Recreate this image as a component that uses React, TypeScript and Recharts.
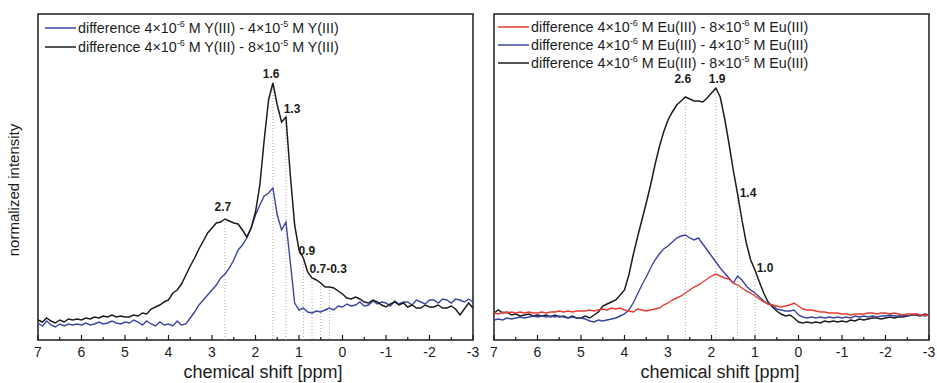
import { LineChart, Line, XAxis, YAxis, ReferenceLine, ReferenceDot, ReferenceArea } from 'recharts';

// chemical shift grid (ppm), shared by every trace
const shift = [
  7, 6.9, 6.8, 6.7, 6.6, 6.5, 6.4, 6.3, 6.2, 6.1,
  6, 5.9, 5.8, 5.7, 5.6, 5.5, 5.4, 5.3, 5.2, 5.1,
  5, 4.9, 4.8, 4.7, 4.6, 4.5, 4.4, 4.3, 4.2, 4.1,
  4, 3.9, 3.8, 3.7, 3.6, 3.5, 3.4, 3.3, 3.2, 3.1,
  3, 2.9, 2.8, 2.7, 2.6, 2.5, 2.4, 2.3, 2.2, 2.1,
  2, 1.9, 1.8, 1.7, 1.6, 1.5, 1.4, 1.3, 1.2, 1.1,
  1, 0.9, 0.8, 0.7, 0.6, 0.5, 0.4, 0.3, 0.2, 0.1,
  0, -0.1, -0.2, -0.3, -0.4, -0.5, -0.6, -0.7, -0.8, -0.9,
  -1, -1.1, -1.2, -1.3, -1.4, -1.5, -1.6, -1.7, -1.8, -1.9,
  -2, -2.1, -2.2, -2.3, -2.4, -2.5, -2.6, -2.7, -2.8, -2.9,
  -3,
];

// Y(III): 4e-6 M minus 4e-5 M
const yDiff4e5 = [
  17, 14, 19, 15, 13, 16, 14, 16, 15, 16,
  15, 17, 15, 16, 18, 16, 17, 19, 17, 16,
  18, 17, 20, 18, 15, 19, 16, 14, 18, 15,
  16, 14, 19, 15, 16, 22, 28, 35, 40, 45,
  50, 55, 62, 66, 72, 80, 90, 95, 102, 112,
  125, 135, 144, 147, 152, 125, 110, 118, 78, 37,
  30, 32, 28, 27, 29, 28, 30, 32, 30, 34,
  33, 36, 34, 35, 38, 34, 35, 39, 36, 38,
  37, 34, 39, 36, 38, 38, 35, 40, 38, 36,
  40, 40, 37, 41, 40, 37, 41, 40, 38, 41,
  38,
];

// Y(III): 4e-6 M minus 8e-5 M
const yDiff8e5 = [
  20, 18, 22, 19, 17, 20, 18, 21, 20, 21,
  20, 22, 21, 23, 22, 24, 23, 25, 23, 24,
  23, 23, 25, 24, 27, 26, 31, 33, 35, 38,
  40, 47, 50, 56, 65, 74, 82, 91, 99, 107,
  112, 117, 118, 121, 119, 117, 116, 110, 103, 112,
  128, 155, 200, 240, 257, 235, 218, 223, 165, 115,
  90, 82, 68, 62, 60, 57, 53, 53, 52, 49,
  46, 42, 41, 43, 41, 38, 37, 40, 38, 35,
  33, 36, 38, 35, 37, 33, 35, 32, 32, 35,
  33, 33, 35, 32, 32, 34, 31, 25, 31, 37,
  32,
];

// Eu(III): 4e-6 M minus 8e-6 M
const euDiff8e6 = [
  27, 26, 28, 27, 28, 27, 28, 27, 28, 27,
  27, 28, 27, 28, 28, 29, 28, 29, 28, 29,
  29, 29, 30, 29, 30, 31, 30, 32, 31, 32,
  30, 29, 28, 31, 30, 29, 30, 31, 32, 35,
  37, 40, 42, 44, 47, 50, 53, 55, 58, 61,
  64, 66, 64, 62, 61, 57, 55, 52, 49, 47,
  44, 41, 38, 36, 35, 34, 33, 34, 35, 37,
  34, 31, 30, 30, 29, 28, 28, 27, 27, 27,
  26, 26, 25, 26, 26, 26, 27, 27, 26, 27,
  27, 26, 27, 26, 25, 26, 26, 26, 25, 25,
  25,
];

// Eu(III): 4e-6 M minus 4e-5 M
const euDiff4e5 = [
  20, 21, 20, 22, 21, 22, 23, 22, 23, 24,
  23, 24, 23, 24, 23, 24, 23, 22, 23, 22,
  22, 21, 19, 18, 20, 19, 20, 21, 22, 24,
  26, 30, 37, 46, 55, 63, 72, 80, 86, 91,
  94, 98, 102, 104, 105, 102, 100, 102, 96, 90,
  84, 78, 72, 67, 62, 57, 64, 60, 54, 50,
  47, 43, 39, 36, 35, 31, 30, 29, 29, 30,
  25, 23, 22, 23, 22, 23, 22, 23, 22, 23,
  22, 23, 22, 24, 23, 24, 23, 24, 23, 24,
  24, 25, 24, 24, 25, 24, 25, 26, 25, 24,
  25,
];

// Eu(III): 4e-6 M minus 8e-5 M
const euDiff8e5 = [
  27, 30, 27, 28, 25, 26, 24, 25, 26, 24,
  25, 24, 25, 23, 25, 23, 24, 22, 24, 22,
  22, 24, 22, 25, 28, 34, 36, 38, 40, 45,
  50, 65, 85, 103, 120, 137, 155, 175, 193, 208,
  220, 228, 235, 239, 243, 241, 239, 239, 238, 242,
  247, 252, 243, 222, 197, 170, 146, 120, 97, 80,
  70, 58, 47, 38, 33, 29, 26, 24, 25, 22,
  18, 17, 18, 17, 18, 17, 19, 18, 19, 18,
  19, 18, 20, 19, 21, 20, 21, 22, 22, 21,
  22, 23, 22, 23, 23, 24, 25, 25, 24, 26,
  25,
];

const xTicks = [7, 6.5, 6, 5.5, 5, 4.5, 4, 3.5, 3, 2.5, 2, 1.5, 1, 0.5, 0, -0.5, -1, -1.5, -2, -2.5, -3];

const yMarks = [2.7, 1.6, 1.3, 0.9, 0.7, 0.5, 0.3];
const euMarks = [2.6, 1.9, 1.4, 1.0];

const yLabels = [
  { text: '1.6', x: 1.64, y: 262 },
  { text: '1.3', x: 1.16, y: 227 },
  { text: '2.7', x: 2.75, y: 129 },
  { text: '0.9', x: 0.82, y: 85 },
  { text: '0.7-0.3', x: 0.33, y: 67 },
];
const euLabels = [
  { text: '2.6', x: 2.66, y: 257 },
  { text: '1.9', x: 1.87, y: 257 },
  { text: '1.4', x: 1.16, y: 143 },
  { text: '1.0', x: 0.77, y: 68 },
];

// legend entries: [text, superscript, text, superscript, text]
const yLegend = [
  { color: '#3b45a3', parts: ['difference 4×10', '-6', ' M Y(III) - 4×10', '-5', ' M Y(III)'] },
  { color: '#1c1c1c', parts: ['difference 4×10', '-6', ' M Y(III) - 8×10', '-5', ' M Y(III)'] },
];
const euLegend = [
  { color: '#ea3b32', parts: ['difference 4×10', '-6', ' M Eu(III) - 8×10', '-6', ' M Eu(III)'] },
  { color: '#3b45a3', parts: ['difference 4×10', '-6', ' M Eu(III) - 4×10', '-5', ' M Eu(III)'] },
  { color: '#1c1c1c', parts: ['difference 4×10', '-6', ' M Eu(III) - 8×10', '-5', ' M Eu(III)'] },
];

const yData = shift.map((s, i) => ({ shift: s, d4e5: yDiff4e5[i], d8e5: yDiff8e5[i] }));
const euData = shift.map((s, i) => ({ shift: s, d8e6: euDiff8e6[i], d4e5: euDiff4e5[i], d8e5: euDiff8e5[i] }));

const FONT = '"Liberation Sans", Arial, sans-serif';
const BLACK = '#1c1c1c';
const BLUE = '#3b45a3';
const RED = '#ea3b32';
const Y_MAX = 326;

const valueAt = (xs: number[], ys: number[], x: number) => {
  const i = xs.findIndex((v) => Math.abs(v - x) < 1e-6);
  return i >= 0 ? ys[i] : 0;
};

const PpmTick = (props: any) => {
  const { x, y, payload } = props;
  const major = Number.isInteger(payload.value);
  return (
    <g>
      <line x1={x} x2={x} y1={y} y2={y - (major ? 5 : 3)} stroke={BLACK} strokeWidth={1.2} />
      {major && (
        <text x={x} y={y + 17} textAnchor="middle" fontSize={14} fontFamily={FONT} fill={BLACK}>
          {payload.value}
        </text>
      )}
    </g>
  );
};

const PeakLabel = (text: string) => (p: any) => (
  <text x={p.cx} y={p.cy} textAnchor="middle" fontSize={12} fontWeight="bold" fontFamily={FONT} fill={BLACK}>
    {text}
  </text>
);

function Frame() {
  return (
    <ReferenceArea x1={7} x2={-3} y1={0} y2={Y_MAX} fill="none" stroke={BLACK} strokeWidth={1.5} strokeOpacity={1} />
  );
}

function LegendRows({ items, x, y, step }: { items: { color: string; parts: string[] }[]; x: number; y: number; step: number }) {
  return (
    <g>
      {items.map((it, i) => {
        const base = y + i * step;
        return (
          <g key={i}>
            <line x1={x} x2={x + 31} y1={base - 5} y2={base - 5} stroke={it.color} strokeWidth={1.5} />
            <text x={x + 33} y={base} fontSize={14.3}>
              <tspan>{it.parts[0]}</tspan>
              <tspan fontSize={9} dy={-6}>{it.parts[1]}</tspan>
              <tspan dy={6}>{it.parts[2]}</tspan>
              <tspan fontSize={9} dy={-6}>{it.parts[3]}</tspan>
              <tspan dy={6}>{it.parts[4]}</tspan>
            </text>
          </g>
        );
      })}
    </g>
  );
}

function Panel({ data, width, left, right, children }: { data: any[]; width: number; left: number; right: number; children: any }) {
  return (
    <LineChart width={width} height={383} data={data} margin={{ top: 14, right, bottom: 13, left }}>
      <XAxis
        dataKey="shift"
        type="number"
        domain={[-3, 7]}
        reversed
        ticks={xTicks}
        interval={0}
        tick={PpmTick}
        tickLine={false}
        tickSize={0}
        tickMargin={0}
        height={30}
        axisLine={false}
      />
      <YAxis hide domain={[0, Y_MAX]} width={0} />
      {children}
      {Frame()}
    </LineChart>
  );
}

export default function App() {
  return (
    <div style={{ position: 'absolute', left: 0, top: 0, width: 937, height: 383, background: '#fff', fontFamily: FONT }}>
      <div style={{ position: 'absolute', left: 0, top: 0 }}>
        <Panel data={yData} width={480} left={38} right={7}>
          {yMarks.map((m) => (
            <ReferenceLine
              key={m}
              segment={[{ x: m, y: valueAt(shift, yDiff8e5, m) }, { x: m, y: 0 }]}
              stroke="#a8a8a8"
              strokeDasharray="1 2"
              strokeWidth={1}
            />
          ))}
          <Line dataKey="d4e5" stroke={BLUE} strokeWidth={1.4} dot={false} isAnimationActive={false} />
          <Line dataKey="d8e5" stroke={BLACK} strokeWidth={1.5} dot={false} isAnimationActive={false} />
          {yLabels.map((l) => (
            <ReferenceDot key={l.text} x={l.x} y={l.y} r={0} shape={PeakLabel(l.text)} />
          ))}
        </Panel>
      </div>
      <div style={{ position: 'absolute', left: 480, top: 0 }}>
        <Panel data={euData} width={457} left={14} right={8}>
          {euMarks.map((m) => (
            <ReferenceLine
              key={m}
              segment={[{ x: m, y: valueAt(shift, euDiff8e5, m) }, { x: m, y: 0 }]}
              stroke="#a8a8a8"
              strokeDasharray="1 2"
              strokeWidth={1}
            />
          ))}
          <Line dataKey="d8e5" stroke={BLACK} strokeWidth={1.5} dot={false} isAnimationActive={false} />
          <Line dataKey="d4e5" stroke={BLUE} strokeWidth={1.4} dot={false} isAnimationActive={false} />
          <Line dataKey="d8e6" stroke={RED} strokeWidth={1.4} dot={false} isAnimationActive={false} />
          {euLabels.map((l) => (
            <ReferenceDot key={l.text} x={l.x} y={l.y} r={0} shape={PeakLabel(l.text)} />
          ))}
        </Panel>
      </div>
      <svg width={937} height={383} style={{ position: 'absolute', left: 0, top: 0, pointerEvents: 'none' }}>
        <g fontFamily={FONT} fill={BLACK}>
          <LegendRows items={yLegend} x={45} y={33} step={19} />
          <LegendRows items={euLegend} x={498} y={32} step={18} />
          <text x={263} y={378} fontSize={18} textAnchor="middle">chemical shift [ppm]</text>
          <text x={720} y={378} fontSize={18} textAnchor="middle">chemical shift [ppm]</text>
          <text x={19} y={190} fontSize={15} textAnchor="middle" transform="rotate(-90 19 190)">normalized intensity</text>
        </g>
      </svg>
    </div>
  );
}
